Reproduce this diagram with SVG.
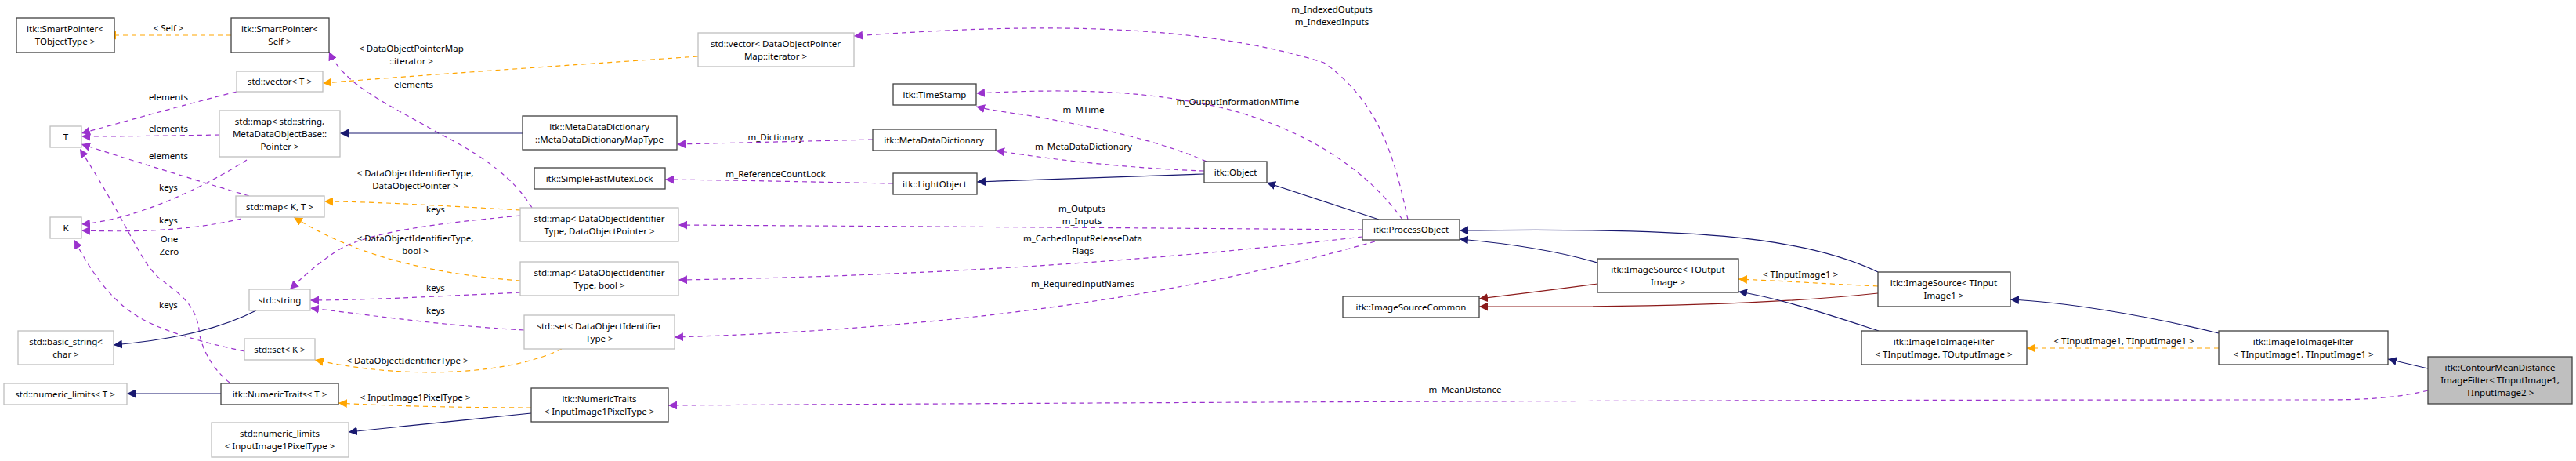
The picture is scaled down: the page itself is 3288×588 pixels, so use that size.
<svg xmlns="http://www.w3.org/2000/svg" width="3288" height="588" viewBox="0 0 3288 588">
<style>
text{font-family:"Noto Sans","DejaVu Sans",sans-serif;font-size:11.5px;fill:#000}
.n text{text-anchor:middle}
.d{fill:#fff;stroke:#404040;stroke-width:1.3}
.u{fill:#fff;stroke:#bfbfbf;stroke-width:1.3}
.c{fill:#bfbfbf;stroke:#404040;stroke-width:1.3}
.e path{fill:none;stroke-width:1.2}
.p{stroke:#9a32cd;stroke-dasharray:6,5;marker-end:url(#mp)}
.o{stroke:#ffa500;stroke-dasharray:6,5;marker-end:url(#mo)}
.b{stroke:#191970;marker-end:url(#mb)}
.r{stroke:#8b1a1a;marker-end:url(#mr)}
.l text{text-anchor:middle}
</style>
<defs>
<marker id="mp" viewBox="0 0 10 10" refX="10" refY="5" markerWidth="11" markerHeight="11" markerUnits="userSpaceOnUse" orient="auto"><path d="M0,0L10,5L0,10z" fill="#9a32cd"/></marker>
<marker id="mo" viewBox="0 0 10 10" refX="10" refY="5" markerWidth="11" markerHeight="11" markerUnits="userSpaceOnUse" orient="auto"><path d="M0,0L10,5L0,10z" fill="#ffa500"/></marker>
<marker id="mb" viewBox="0 0 10 10" refX="10" refY="5" markerWidth="11" markerHeight="11" markerUnits="userSpaceOnUse" orient="auto"><path d="M0,0L10,5L0,10z" fill="#191970"/></marker>
<marker id="mr" viewBox="0 0 10 10" refX="10" refY="5" markerWidth="11" markerHeight="11" markerUnits="userSpaceOnUse" orient="auto"><path d="M0,0L10,5L0,10z" fill="#8b1a1a"/></marker>
</defs>
<rect width="3288" height="588" fill="#fff"/>
<g class="e" id="edges">
<path class="o" d="M295,45L137,45"/>
<path class="o" d="M891,72C700,85 550,95 412,106"/>
<path class="p" d="M302,117C230,135 160,155 104,170"/>
<path class="p" d="M280,172C220,173 160,174 104,174"/>
<path class="p" d="M318,250C250,230 170,205 104,184"/>
<path class="p" d="M315,204C250,245 170,280 104,286"/>
<path class="p" d="M308,279C240,295 170,296 104,294"/>
<path class="p" d="M293,488C270,470 255,440 254,420C250,390 230,375 210,360C180,340 172,300 102,190"/>
<path class="p" d="M312,448C250,435 200,420 170,400C140,380 115,345 95,306"/>
<path class="b" d="M327,396C270,425 200,435 145,440"/>
<path class="o" d="M664,268C560,262 470,257 414,257"/>
<path class="o" d="M664,358C560,350 460,330 375,277"/>
<path class="p" d="M679,265C655,225 610,195 560,170C500,135 440,110 420,66"/>
<path class="p" d="M664,275C560,285 470,295 430,320C400,340 385,355 370,369"/>
<path class="p" d="M664,373C560,378 460,383 396,383"/>
<path class="p" d="M669,421C560,415 460,400 396,393"/>
<path class="o" d="M717,445C650,478 520,485 402,459"/>
<path class="o" d="M678,520C600,520 500,518 432,514"/>
<path class="b" d="M678,527C600,535 500,545 445,551"/>
<path class="b" d="M282,502L162,502"/>
<path class="b" d="M667,170L434,170"/>
<path class="p" d="M1114,178C1030,180 950,182 864,184"/>
<path class="p" d="M1140,234C1030,232 950,230 849,229"/>
<path class="p" d="M1739,293C1500,291 1200,289 866,287"/>
<path class="p" d="M1739,302C1500,330 1200,352 866,357"/>
<path class="p" d="M1755,308C1500,380 1200,420 861,430"/>
<path class="p" d="M1797,280C1780,200 1760,130 1690,80C1500,20 1250,35 1090,46"/>
<path class="p" d="M1790,280C1740,210 1660,165 1570,140C1450,110 1330,115 1246,119"/>
<path class="p" d="M1540,206C1470,175 1380,160 1330,150C1300,145 1270,142 1246,136"/>
<path class="p" d="M1537,218C1450,215 1350,205 1271,192"/>
<path class="b" d="M1537,222L1247,232"/>
<path class="b" d="M1760,280L1617,233"/>
<path class="b" d="M2039,335C1980,318 1920,310 1863,305"/>
<path class="b" d="M2397,347C2300,300 2150,290 1863,294"/>
<path class="r" d="M2039,362C1980,370 1930,376 1888,381"/>
<path class="r" d="M2397,374C2250,390 2050,392 1888,391"/>
<path class="o" d="M2397,365C2330,362 2270,358 2219,356"/>
<path class="b" d="M2398,422C2330,400 2270,380 2219,372"/>
<path class="b" d="M2832,425C2730,400 2630,385 2566,382"/>
<path class="o" d="M2832,444L2587,444"/>
<path class="b" d="M3099,470L3048,458"/>
<path class="p" d="M3099,498C3050,510 3000,510 2950,510C2000,510 1200,515 853,517"/>
</g>
<g class="l" id="labels">
<text x="215" y="40">&lt; Self &gt;</text>
<text x="525" y="66">&lt; DataObjectPointerMap</text><text x="525" y="82">::iterator &gt;</text>
<text x="215" y="128">elements</text>
<text x="215" y="168">elements</text>
<text x="215" y="203">elements</text>
<text x="215" y="243">keys</text>
<text x="528" y="112">elements</text>
<text x="215" y="285">keys</text>
<text x="216" y="309">One</text><text x="216" y="325">Zero</text>
<text x="215" y="393">keys</text>
<text x="530" y="225">&lt; DataObjectIdentifierType,</text><text x="530" y="241">DataObjectPointer &gt;</text>
<text x="530" y="308">&lt; DataObjectIdentifierType,</text><text x="530" y="324">bool &gt;</text>
<text x="556" y="271">keys</text>
<text x="556" y="371">keys</text>
<text x="556" y="400">keys</text>
<text x="520" y="464">&lt; DataObjectIdentifierType &gt;</text>
<text x="530" y="511">&lt; InputImage1PixelType &gt;</text>
<text x="990" y="179">m_Dictionary</text>
<text x="990" y="226">m_ReferenceCountLock</text>
<text x="1381" y="270">m_Outputs</text><text x="1381" y="286">m_Inputs</text>
<text x="1382" y="308">m_CachedInputReleaseData</text><text x="1382" y="324">Flags</text>
<text x="1382" y="366">m_RequiredInputNames</text>
<text x="1700" y="16">m_IndexedOutputs</text><text x="1700" y="32">m_IndexedInputs</text>
<text x="1580" y="134">m_OutputInformationMTime</text>
<text x="1383" y="144">m_MTime</text>
<text x="1383" y="191">m_MetaDataDictionary</text>
<text x="2298" y="354">&lt; TInputImage1 &gt;</text>
<text x="2711" y="439">&lt; TInputImage1, TInputImage1 &gt;</text>
<text x="1870" y="501">m_MeanDistance</text>
</g>
<g class="n">
<g id="n_sp_tobj"><rect class="d" x="21" y="23" width="125" height="44"/><text x="83" y="41">itk::SmartPointer&lt;</text><text x="83" y="57">TObjectType &gt;</text></g>
<g id="n_sp_self"><rect class="d" x="295" y="23" width="125" height="44"/><text x="357" y="41">itk::SmartPointer&lt;</text><text x="357" y="57">Self &gt;</text></g>
<g id="n_vec_t"><rect class="u" x="302" y="91" width="110" height="26"/><text x="357" y="108">std::vector&lt; T &gt;</text></g>
<g id="n_t"><rect class="u" x="64" y="161" width="40" height="27"/><text x="84" y="179">T</text></g>
<g id="n_map_str"><rect class="u" x="280" y="141" width="154" height="59"/><text x="357" y="159">std::map&lt; std::string,</text><text x="357" y="175">MetaDataObjectBase::</text><text x="357" y="191">Pointer &gt;</text></g>
<g id="n_map_kt"><rect class="u" x="301" y="250" width="113" height="27"/><text x="357" y="268">std::map&lt; K, T &gt;</text></g>
<g id="n_k"><rect class="u" x="64" y="277" width="40" height="27"/><text x="84" y="295">K</text></g>
<g id="n_string"><rect class="u" x="318" y="369" width="78" height="27"/><text x="357" y="387">std::string</text></g>
<g id="n_basic"><rect class="u" x="23" y="422" width="122" height="43"/><text x="84" y="440">std::basic_string&lt;</text><text x="84" y="456">char &gt;</text></g>
<g id="n_set_k"><rect class="u" x="312" y="432" width="90" height="27"/><text x="357" y="450">std::set&lt; K &gt;</text></g>
<g id="n_nl_t"><rect class="u" x="5" y="489" width="157" height="27"/><text x="83" y="507">std::numeric_limits&lt; T &gt;</text></g>
<g id="n_nt_t"><rect class="d" x="282" y="489" width="150" height="27"/><text x="357" y="507">itk::NumericTraits&lt; T &gt;</text></g>
<g id="n_nl_p"><rect class="u" x="270" y="539" width="175" height="44"/><text x="357" y="557">std::numeric_limits</text><text x="357" y="573">&lt; InputImage1PixelType &gt;</text></g>
<g id="n_vec_it"><rect class="u" x="891" y="42" width="199" height="43"/><text x="990" y="60">std::vector&lt; DataObjectPointer</text><text x="990" y="76">Map::iterator &gt;</text></g>
<g id="n_mddmt"><rect class="d" x="667" y="148" width="197" height="43"/><text x="765" y="166">itk::MetaDataDictionary</text><text x="765" y="182">::MetaDataDictionaryMapType</text></g>
<g id="n_mutex"><rect class="d" x="682" y="214" width="167" height="27"/><text x="765" y="232">itk::SimpleFastMutexLock</text></g>
<g id="n_map_dop"><rect class="u" x="664" y="265" width="202" height="43"/><text x="765" y="283">std::map&lt; DataObjectIdentifier</text><text x="765" y="299">Type, DataObjectPointer &gt;</text></g>
<g id="n_map_bool"><rect class="u" x="664" y="334" width="202" height="43"/><text x="765" y="352">std::map&lt; DataObjectIdentifier</text><text x="765" y="368">Type, bool &gt;</text></g>
<g id="n_set_doi"><rect class="u" x="669" y="402" width="192" height="43"/><text x="765" y="420">std::set&lt; DataObjectIdentifier</text><text x="765" y="436">Type &gt;</text></g>
<g id="n_nt_p"><rect class="d" x="678" y="495" width="175" height="43"/><text x="765" y="513">itk::NumericTraits</text><text x="765" y="529">&lt; InputImage1PixelType &gt;</text></g>
<g id="n_ts"><rect class="d" x="1140" y="107" width="106" height="27"/><text x="1193" y="125">itk::TimeStamp</text></g>
<g id="n_mdd"><rect class="d" x="1114" y="165" width="157" height="27"/><text x="1192" y="183">itk::MetaDataDictionary</text></g>
<g id="n_light"><rect class="d" x="1140" y="221" width="107" height="27"/><text x="1193" y="239">itk::LightObject</text></g>
<g id="n_object"><rect class="d" x="1537" y="206" width="80" height="27"/><text x="1577" y="224">itk::Object</text></g>
<g id="n_po"><rect class="d" x="1739" y="280" width="124" height="26"/><text x="1801" y="297">itk::ProcessObject</text></g>
<g id="n_isc"><rect class="d" x="1714" y="378" width="174" height="27"/><text x="1801" y="396">itk::ImageSourceCommon</text></g>
<g id="n_is_out"><rect class="d" x="2039" y="330" width="180" height="43"/><text x="2129" y="348">itk::ImageSource&lt; TOutput</text><text x="2129" y="364">Image &gt;</text></g>
<g id="n_is_in"><rect class="d" x="2397" y="347" width="169" height="44"/><text x="2481" y="365">itk::ImageSource&lt; TInput</text><text x="2481" y="381">Image1 &gt;</text></g>
<g id="n_itif"><rect class="d" x="2376" y="422" width="211" height="43"/><text x="2481" y="440">itk::ImageToImageFilter</text><text x="2481" y="456">&lt; TInputImage, TOutputImage &gt;</text></g>
<g id="n_itif1"><rect class="d" x="2832" y="422" width="216" height="43"/><text x="2940" y="440">itk::ImageToImageFilter</text><text x="2940" y="456">&lt; TInputImage1, TInputImage1 &gt;</text></g>
<g id="n_cmd"><rect class="c" x="3099" y="455" width="184" height="60"/><text x="3191" y="473">itk::ContourMeanDistance</text><text x="3191" y="489">ImageFilter&lt; TInputImage1,</text><text x="3191" y="505">TInputImage2 &gt;</text></g>
</g>
</svg>
